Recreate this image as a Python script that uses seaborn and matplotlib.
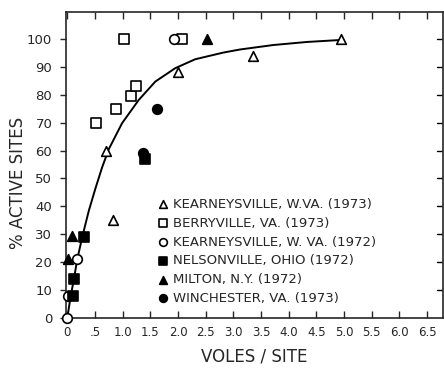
import matplotlib
matplotlib.use("Agg")
import matplotlib.pyplot as plt
import seaborn as sns

# data: voles per site vs % active sites
kv73_x = [0.70, 0.83, 2.00, 3.35, 4.95]
kv73_y = [60, 35, 88, 94, 100]
berry_x = [0.52, 0.88, 1.03, 1.16, 1.24, 2.08]
berry_y = [70, 75, 100, 79.5, 83, 100]
kv72_x = [0.0, 0.02, 0.17, 1.92]
kv72_y = [0, 8, 21, 100]
nelson_x = [0.10, 0.13, 0.31, 1.41]
nelson_y = [8, 14, 29, 57]
milton_x = [0.02, 0.08, 2.52]
milton_y = [21, 29.5, 100]
winch_x = [1.36, 1.62]
winch_y = [59, 75]

# hand-drawn curve
curve_x = [0.0, 0.06, 0.12, 0.18, 0.27, 0.39, 0.51, 0.63, 0.75, 0.99,
           1.29, 1.59, 1.95, 2.31, 2.82, 3.12, 3.72, 4.33, 4.93]
curve_y = [0, 7.6, 14, 21, 29, 38.5, 46.5, 54, 60.5, 69.8,
           78.1, 84.7, 89.5, 92.7, 95.1, 96.2, 97.8, 98.9, 99.6]

series = [
    ("KEARNEYSVILLE, W.VA. (1973)", kv73_x, kv73_y, "^", "white"),
    ("BERRYVILLE, VA. (1973)", berry_x, berry_y, "s", "white"),
    ("KEARNEYSVILLE, W. VA. (1972)", kv72_x, kv72_y, "o", "white"),
    ("NELSONVILLE, OHIO (1972)", nelson_x, nelson_y, "s", "black"),
    ("MILTON, N.Y. (1972)", milton_x, milton_y, "^", "black"),
    ("WINCHESTER, VA. (1973)", winch_x, winch_y, "o", "black"),
]

sns.set_style("ticks")
plt.rcParams['font.family'] = ['DejaVu Sans']

fig = plt.figure(figsize=(4.44, 3.69), dpi=100)
ax = fig.add_axes([0.149, 0.138, 0.849, 0.83])

sns.lineplot(x=curve_x, y=curve_y, ax=ax, color="black", lw=1.4,
             sort=False, estimator=None, legend=False)

for lab, xs, ys, mk, fc in series:
    sns.scatterplot(x=xs, y=ys, ax=ax, marker=mk, s=48, color=fc,
                    edgecolor="black", linewidth=1.2, label=lab,
                    zorder=3, clip_on=False)

ax.set_xlim(-0.02, 6.79)
ax.set_ylim(0, 109.7)
xt = [0, 0.5, 1, 1.5, 2, 2.5, 3, 3.5, 4, 4.5, 5, 5.5, 6, 6.5]
ax.set_xticks(xt)
ax.set_xticklabels(["0", ".5"] + ["%.1f" % v for v in xt[2:]], fontsize=8.5)
ax.set_yticks(range(0, 101, 10))
ax.set_yticklabels([str(v) for v in range(0, 101, 10)], fontsize=9.5)
ax.tick_params(axis="x", direction="in", top=True, length=5, width=1, pad=6)
ax.tick_params(axis="y", direction="out", length=4, width=1, pad=6)
ax.tick_params(axis="y", which="both", right=False)
for v in range(10, 101, 10):
    ax.plot([1, 0.985], [v, v], transform=ax.get_yaxis_transform(),
            color="black", lw=1)
for s in ax.spines.values():
    s.set_linewidth(1.2)

ax.set_xlabel("VOLES / SITE", fontsize=12, labelpad=6)
ax.set_ylabel("% ACTIVE SITES", fontsize=12)
ax.yaxis.set_label_coords(-0.105, 0.44)

ax.legend(loc="upper left", bbox_to_anchor=(0.34, 0.478), bbox_transform=fig.transFigure,
          frameon=False, fontsize=9.5, handletextpad=0.3, labelspacing=0.44,
          borderaxespad=0, handlelength=1.0, markerscale=0.8)

fig.savefig("out.png", dpi=100)
